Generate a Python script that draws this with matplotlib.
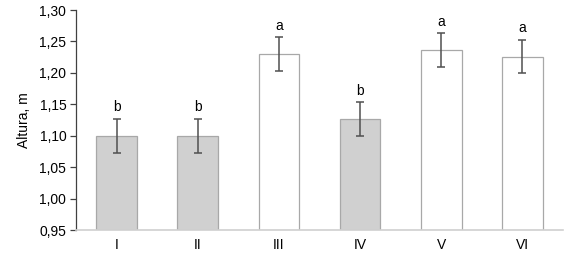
import matplotlib
matplotlib.use("Agg")
import matplotlib.pyplot as plt
from matplotlib.ticker import FixedLocator

plt.rcParams['font.family'] = ['Liberation Sans', 'DejaVu Sans']

categories = ["I", "II", "III", "IV", "V", "VI"]
values = [1.100, 1.100, 1.230, 1.126, 1.236, 1.226]
errors = [0.027, 0.027, 0.027, 0.027, 0.027, 0.027]
letters = ["b", "b", "a", "b", "a", "a"]
fills = ["#d0d0d0", "#d0d0d0", "#ffffff", "#d0d0d0", "#ffffff", "#ffffff"]
yticks = [0.95, 1.00, 1.05, 1.10, 1.15, 1.20, 1.25, 1.30]

fig = plt.figure(figsize=(5.72, 2.58), dpi=100)
ax = fig.add_axes([76/572, 1 - 230/258, (563-76)/572, 220/258])

x = list(range(len(categories)))
ax.bar(x, [v - 0.95 for v in values], bottom=0.95, width=0.5, color=fills,
       edgecolor="#a8a8a8", linewidth=0.9, zorder=2)
ax.errorbar(x, values, yerr=errors, fmt="none", ecolor="#505050",
            elinewidth=1.1, capsize=3, capthick=1.1, zorder=3)
for xi, v, e, t in zip(x, values, errors, letters):
    ax.text(xi, v + e + 0.007, t, ha="center", va="bottom", fontsize=10, color="#000000")

ax.set_xlim(-0.5, len(categories) - 0.5)
ax.set_ylim(0.95, 1.30)
ax.yaxis.set_major_locator(FixedLocator(yticks))
ax.set_yticklabels([f"{t:.2f}".replace(".", ",") for t in yticks])
ax.set_xticks(x)
ax.set_xticklabels(categories)
ax.tick_params(axis="x", length=0, pad=6, labelsize=10)
ax.tick_params(axis="y", length=4, width=0.9, color="#404040", pad=3, labelsize=10)
for s in ["top", "right"]:
    ax.spines[s].set_visible(False)
ax.spines["left"].set_color("#404040")
ax.spines["left"].set_linewidth(0.9)
ax.spines["bottom"].set_color("#d0d0d0")
ax.spines["bottom"].set_linewidth(1.2)
ax.set_ylabel("Altura, m", fontsize=10, labelpad=6)

fig.savefig("out.png", dpi=100)
